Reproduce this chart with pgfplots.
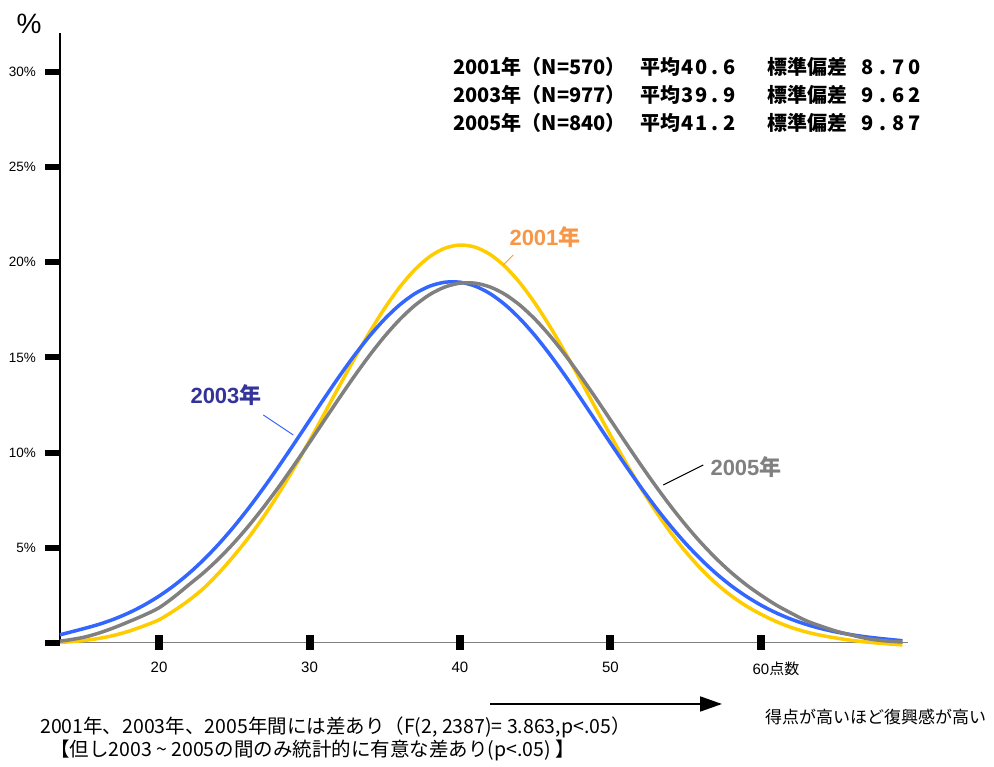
\documentclass[border=0pt]{standalone}
\usepackage{fontspec}
\setmainfont{Liberation Sans}
\newfontfamily\jp{Noto Sans CJK JP}
\usepackage{pgfplots}
\pgfplotsset{compat=1.18}
\usetikzlibrary{arrows.meta}

\definecolor{c2001}{RGB}{255,204,0}
\definecolor{c2003}{RGB}{51,102,255}
\definecolor{c2005}{RGB}{128,128,128}
\definecolor{lab2001}{RGB}{247,150,70}
\definecolor{lab2003}{RGB}{51,51,153}

% fixed-width characters for the numbers in the summary block
\newcommand\m[1]{\makebox[14pt]{#1}}
\newcommand\mm[1]{\makebox[15.5pt]{#1}}

\begin{document}
\begin{tikzpicture}
\useasboundingbox (-60pt,-124pt) rectangle (934pt,643pt);
\begin{axis}[
    at={(0pt,0pt)}, anchor=south west,
    scale only axis, width=848pt, height=610pt,
    xmin=13.42, xmax=69.77, ymin=0, ymax=32.05,
    axis x line*=bottom, axis y line*=left,
    x axis line style={draw=gray, line width=1pt},
    y axis line style={draw=black, line width=1.2pt},
    xtick={20,30,40,50,60},
    xticklabels={20,30,40,50,60\rlap{\jp 点数}},
    ytick={5,10,15,20,25,30},
    yticklabels={5\%,10\%,15\%,20\%,25\%,30\%},
    major tick length=0pt, tick align=inside,
    xticklabel style={font=\fontsize{15}{15}\selectfont, anchor=north, inner sep=0pt, yshift=-19pt},
    yticklabel style={font=\fontsize{13.5}{13.5}\selectfont, anchor=east, inner sep=0pt, xshift=-24pt},
    clip=false,
    every axis plot/.append style={line width=3.5pt, smooth},
  ]

  % 2001
  \addplot [c2001] table {
    x y
    13.42 0.03
    14 0.06
    15 0.13
    16 0.24
    17 0.40
    18 0.62
    19 0.90
    20 1.22
    21 1.70
    22 2.25
    23 2.90
    24 3.70
    25 4.605
    26 5.590
    27 6.696
    28 7.914
    29 9.231
    30 10.626
    31 12.070
    32 13.529
    33 14.966
    34 16.335
    35 17.595
    36 18.703
    37 19.618
    38 20.307
    39 20.743
    40 20.909
    41 20.798
    42 20.415
    43 19.775
    44 18.902
    45 17.830
    46 16.597
    47 15.246
    48 13.819
    49 12.362
    50 10.911
    51 9.505
    52 8.170
    53 6.931
    54 5.801
    55 4.792
    56 3.906
    57 3.142
    58 2.494
    59 1.954
    60 1.51
    61 1.13
    62 0.82
    63 0.58
    64 0.40
    65 0.26
    66 0.14
    67 0.05
    68 -0.02
    69 -0.08
    69.4 -0.10
  };

  % 2003
  \addplot [c2003] table {
    x y
    13.42 0.43
    14 0.55
    15 0.756
    16 0.978
    17 1.252
    18 1.586
    19 1.988
    20 2.464
    21 3.021
    22 3.665
    23 4.400
    24 5.225
    25 6.138
    26 7.134
    27 8.203
    28 9.331
    29 10.501
    30 11.691
    31 12.877
    32 14.033
    33 15.128
    34 16.135
    35 17.024
    36 17.772
    37 18.354
    38 18.752
    39 18.955
    40 18.955
    41 18.752
    42 18.354
    43 17.772
    44 17.024
    45 16.135
    46 15.128
    47 14.033
    48 12.877
    49 11.691
    50 10.501
    51 9.331
    52 8.203
    53 7.134
    54 6.138
    55 5.225
    56 4.400
    57 3.665
    58 3.021
    59 2.464
    60 1.988
    61 1.586
    62 1.252
    63 0.978
    64 0.756
    65 0.578
    66 0.437
    67 0.32
    68 0.23
    69 0.15
    69.4 0.12
  };

  % 2005
  \addplot [c2005] table {
    x y
    13.42 0.10
    14 0.16
    15 0.30
    16 0.52
    17 0.80
    18 1.12
    19 1.46
    20 1.85
    21 2.42
    22 3.07
    23 3.718
    24 4.455
    25 5.281
    26 6.194
    27 7.187
    28 8.252
    29 9.375
    30 10.537
    31 11.718
    32 12.895
    33 14.039
    34 15.123
    35 16.119
    36 16.999
    37 17.737
    38 18.312
    39 18.705
    40 18.905
    41 18.905
    42 18.705
    43 18.312
    44 17.737
    45 16.999
    46 16.119
    47 15.123
    48 14.039
    49 12.895
    50 11.718
    51 10.537
    52 9.375
    53 8.252
    54 7.187
    55 6.194
    56 5.281
    57 4.455
    58 3.718
    59 3.071
    60 2.509
    61 2.00
    62 1.57
    63 1.17
    64 0.88
    65 0.62
    66 0.42
    67 0.24
    68 0.13
    69 0.07
    69.4 0.05
  };

  % tick marks
  \pgfplotsinvokeforeach{20,30,40,50,60}{
    \fill (axis cs:#1,0) ++(-4pt,-7.5pt) rectangle ++(8pt,15pt);
  }
  \pgfplotsinvokeforeach{0,5,10,15,20,25,30}{
    \fill (axis cs:13.42,#1) ++(-15pt,-3pt) rectangle ++(15pt,6pt);
  }
\end{axis}

\node [font=\fontsize{28}{28}\selectfont] at (-31pt,619pt) {\%};

% summary block
\begin{scope}[every node/.style={font=\jp\bfseries\fontsize{20}{20}\selectfont, inner sep=0pt}]
  \node [anchor=west] at (393pt,576pt) {2001年（N=570）};
  \node [anchor=west] at (580pt,576pt) {平均\m4\m0\m.\m6};
  \node [anchor=west] at (707pt,576pt) {標準偏差};
  \node [anchor=west] at (800pt,576pt) {\mm8\mm.\mm7\mm0};
  \node [anchor=west] at (393pt,548pt) {2003年（N=977）};
  \node [anchor=west] at (580pt,548pt) {平均\m3\m9\m.\m9};
  \node [anchor=west] at (707pt,548pt) {標準偏差};
  \node [anchor=west] at (800pt,548pt) {\mm9\mm.\mm6\mm2};
  \node [anchor=west] at (393pt,520pt) {2005年（N=840）};
  \node [anchor=west] at (580pt,520pt) {平均\m4\m1\m.\m2};
  \node [anchor=west] at (707pt,520pt) {標準偏差};
  \node [anchor=west] at (800pt,520pt) {\mm9\mm.\mm8\mm7};
\end{scope}

% series labels
\node [font=\bfseries\fontsize{22}{22}\selectfont, text=lab2001] at (485pt,406pt) {2001{\jp 年}};
\draw [lab2001, line width=0.8pt] (453.3pt,388pt) -- (443.3pt,378pt);
\node [font=\bfseries\fontsize{22}{22}\selectfont, text=lab2003] at (166pt,248pt) {2003{\jp 年}};
\draw [c2003, line width=1pt] (203.3pt,228pt) -- (233.3pt,208pt);
\node [font=\bfseries\fontsize{22}{22}\selectfont, text=c2005] at (686pt,176pt) {2005{\jp 年}};
\draw [black, line width=1pt] (643.3pt,178pt) -- (603.3pt,158pt);

% direction arrow
\draw [line width=1.8pt, -{Triangle[length=22pt, width=15pt]}] (430pt,-61pt) -- (662pt,-61pt);
\node [anchor=west, inner sep=0pt, font=\jp\fontsize{17}{17}\selectfont] at (705pt,-74pt) {得点が高いほど復興感が高い};

% notes
\node [anchor=west, inner sep=0pt, font=\jp\fontsize{19.5}{19.5}\selectfont] at (-20pt,-84pt) {2001年、2003年、2005年間には差あり（F(2, 2387)= 3.863,p<.05）};
\node [anchor=west, inner sep=0pt, font=\jp\fontsize{19.5}{19.5}\selectfont] at (-10pt,-107pt) {【但し2003 \textasciitilde\ 2005の間のみ統計的に有意な差あり(p<.05) 】};
\end{tikzpicture}
\end{document}
